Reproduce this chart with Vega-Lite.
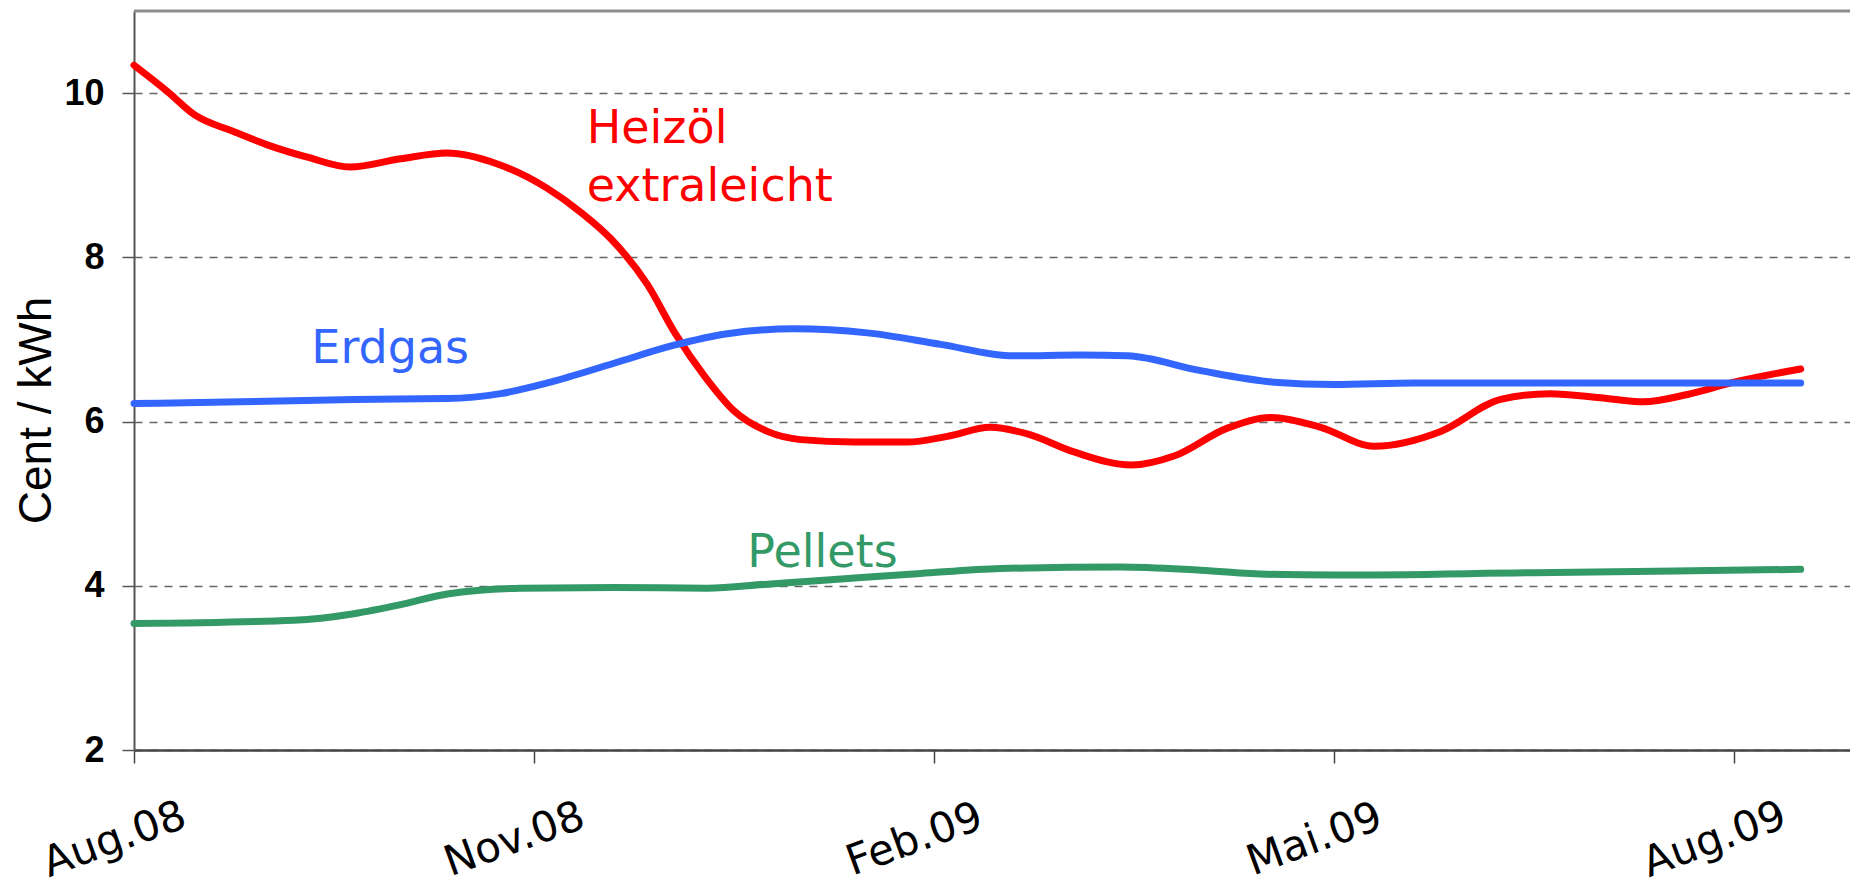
{
  "$schema": "https://vega.github.io/schema/vega-lite/v6.json",
  "autosize": {"type": "none"},
  "padding": {"left": 134, "top": 11, "right": 0, "bottom": 138},
  "width": 1716,
  "height": 739,
  "background": "white",
  "config": {"view": {"stroke": null}},
  "datasets": {
    "prices": [
      {"series": "Heizöl", "m": 0, "v": 10.34},
      {"series": "Heizöl", "m": 0.25, "v": 10.02},
      {"series": "Heizöl", "m": 0.45, "v": 9.74},
      {"series": "Heizöl", "m": 0.75, "v": 9.53},
      {"series": "Heizöl", "m": 1.0, "v": 9.37},
      {"series": "Heizöl", "m": 1.3, "v": 9.22},
      {"series": "Heizöl", "m": 1.62, "v": 9.1},
      {"series": "Heizöl", "m": 2.0, "v": 9.2},
      {"series": "Heizöl", "m": 2.35, "v": 9.27},
      {"series": "Heizöl", "m": 2.72, "v": 9.14},
      {"series": "Heizöl", "m": 3.1, "v": 8.84},
      {"series": "Heizöl", "m": 3.35, "v": 8.55},
      {"series": "Heizöl", "m": 3.58, "v": 8.22},
      {"series": "Heizöl", "m": 3.85, "v": 7.67},
      {"series": "Heizöl", "m": 4.06, "v": 7.07},
      {"series": "Heizöl", "m": 4.28, "v": 6.55},
      {"series": "Heizöl", "m": 4.5, "v": 6.13},
      {"series": "Heizöl", "m": 4.75, "v": 5.88},
      {"series": "Heizöl", "m": 5.0, "v": 5.78},
      {"series": "Heizöl", "m": 5.4, "v": 5.75},
      {"series": "Heizöl", "m": 5.8, "v": 5.75},
      {"series": "Heizöl", "m": 6.1, "v": 5.82},
      {"series": "Heizöl", "m": 6.42, "v": 5.93},
      {"series": "Heizöl", "m": 6.7, "v": 5.85},
      {"series": "Heizöl", "m": 7.05, "v": 5.63},
      {"series": "Heizöl", "m": 7.48, "v": 5.47},
      {"series": "Heizöl", "m": 7.8, "v": 5.58},
      {"series": "Heizöl", "m": 8.2, "v": 5.92},
      {"series": "Heizöl", "m": 8.53, "v": 6.05},
      {"series": "Heizöl", "m": 8.9, "v": 5.93},
      {"series": "Heizöl", "m": 9.3, "v": 5.7},
      {"series": "Heizöl", "m": 9.8, "v": 5.88},
      {"series": "Heizöl", "m": 10.25, "v": 6.27},
      {"series": "Heizöl", "m": 10.62, "v": 6.34},
      {"series": "Heizöl", "m": 11.0, "v": 6.29},
      {"series": "Heizöl", "m": 11.32, "v": 6.24},
      {"series": "Heizöl", "m": 11.65, "v": 6.33},
      {"series": "Heizöl", "m": 12.0, "v": 6.48},
      {"series": "Heizöl", "m": 12.5, "v": 6.64},
      {"series": "Erdgas", "m": 0, "v": 6.22},
      {"series": "Erdgas", "m": 0.8, "v": 6.24},
      {"series": "Erdgas", "m": 1.65, "v": 6.27},
      {"series": "Erdgas", "m": 2.35, "v": 6.28},
      {"series": "Erdgas", "m": 2.75, "v": 6.34},
      {"series": "Erdgas", "m": 3.1, "v": 6.47},
      {"series": "Erdgas", "m": 3.6, "v": 6.71},
      {"series": "Erdgas", "m": 4.05, "v": 6.93},
      {"series": "Erdgas", "m": 4.45, "v": 7.07},
      {"series": "Erdgas", "m": 4.95, "v": 7.13},
      {"series": "Erdgas", "m": 5.5, "v": 7.08},
      {"series": "Erdgas", "m": 6.05, "v": 6.94},
      {"series": "Erdgas", "m": 6.6, "v": 6.8},
      {"series": "Erdgas", "m": 7.1, "v": 6.81},
      {"series": "Erdgas", "m": 7.45, "v": 6.8},
      {"series": "Erdgas", "m": 8.0, "v": 6.62},
      {"series": "Erdgas", "m": 8.55, "v": 6.48},
      {"series": "Erdgas", "m": 9.0, "v": 6.45},
      {"series": "Erdgas", "m": 9.6, "v": 6.47},
      {"series": "Erdgas", "m": 10.5, "v": 6.47},
      {"series": "Erdgas", "m": 11.5, "v": 6.47},
      {"series": "Erdgas", "m": 12.5, "v": 6.47},
      {"series": "Pellets", "m": 0, "v": 3.54},
      {"series": "Pellets", "m": 1.2, "v": 3.58},
      {"series": "Pellets", "m": 1.65, "v": 3.66},
      {"series": "Pellets", "m": 2.0, "v": 3.77},
      {"series": "Pellets", "m": 2.35, "v": 3.9},
      {"series": "Pellets", "m": 2.9, "v": 3.97},
      {"series": "Pellets", "m": 3.6, "v": 3.98},
      {"series": "Pellets", "m": 4.3, "v": 3.97},
      {"series": "Pellets", "m": 4.75, "v": 4.02},
      {"series": "Pellets", "m": 5.2, "v": 4.07},
      {"series": "Pellets", "m": 5.9, "v": 4.15},
      {"series": "Pellets", "m": 6.5, "v": 4.21},
      {"series": "Pellets", "m": 7.4, "v": 4.23},
      {"series": "Pellets", "m": 8.0, "v": 4.19},
      {"series": "Pellets", "m": 8.5, "v": 4.14},
      {"series": "Pellets", "m": 9.0, "v": 4.13},
      {"series": "Pellets", "m": 10.5, "v": 4.16},
      {"series": "Pellets", "m": 12.5, "v": 4.2}
    ],
    "labels": [
      {"series": "Heizöl", "text": "Heizöl", "m": 3.395, "v": 9.39},
      {"series": "Heizöl", "text": "extraleicht", "m": 3.395, "v": 8.68},
      {"series": "Erdgas", "text": "Erdgas", "m": 1.33, "v": 6.71},
      {"series": "Pellets", "text": "Pellets", "m": 4.6, "v": 4.23}
    ]
  },
  "layer": [
    {
      "data": {"values": [{"top": 11}]},
      "mark": {"type": "rule", "color": "#8c8c8c", "strokeWidth": 3},
      "encoding": {"y": {"field": "top", "type": "quantitative"}}
    },
    {
      "data": {"name": "prices"},
      "mark": {"type": "line", "strokeWidth": 7, "interpolate": "monotone", "strokeCap": "round"},
      "encoding": {
        "x": {
          "field": "m", "type": "quantitative",
          "scale": {"domain": [0, 12.87], "nice": false, "zero": false},
          "axis": {
            "values": [0, 3, 6, 9, 12],
            "labelExpr": "datum.value == 0 ? 'Aug.08' : datum.value == 3 ? 'Nov.08' : datum.value == 6 ? 'Feb.09' : datum.value == 9 ? 'Mai.09' : 'Aug.09'",
            "title": null,
            "grid": false,
            "domainColor": "#444444",
            "domainWidth": 2.5,
            "tickColor": "#444444",
            "tickWidth": 1.5,
            "tickSize": 13,
            "labelFont": "DejaVu Sans",
            "labelFontSize": 42,
            "labelColor": "black",
            "labelAngle": -20,
            "labelAlign": "center",
            "labelBaseline": "middle",
            "labelOffset": -20,
            "labelPadding": 76,
            "labelOverlap": false,
            "labelFlush": false,
            "labelBound": false
          }
        },
        "y": {
          "field": "v", "type": "quantitative",
          "scale": {"domain": [2, 11], "nice": false, "zero": false},
          "axis": {
            "values": [2, 4, 6, 8, 10],
            "format": "d",
            "title": "Cent / kWh",
            "titleFont": "Liberation Sans",
            "titleFontSize": 46,
            "titleFontWeight": "normal",
            "titleColor": "black",
            "titleAngle": -90,
            "titleAlign": "center",
            "titleBaseline": "alphabetic",
            "titleX": -84,
            "titleY": 399,
            "grid": true,
            "gridDash": [8, 7],
            "gridColor": "#666666",
            "gridWidth": 1.3,
            "domainColor": "#555555",
            "domainWidth": 2,
            "tickColor": "#555555",
            "tickWidth": 1.5,
            "tickSize": 12,
            "labelFont": "Liberation Sans",
            "labelFontWeight": "bold",
            "labelFontSize": 36,
            "labelColor": "black",
            "labelPadding": 18,
            "labelOverlap": false,
            "labelFlush": false
          }
        },
        "color": {
          "field": "series", "type": "nominal",
          "scale": {"domain": ["Heizöl", "Erdgas", "Pellets"], "range": ["#ff0000", "#3366ff", "#339966"]},
          "legend": null
        }
      }
    },
    {
      "data": {"name": "labels"},
      "mark": {"type": "text", "font": "DejaVu Sans", "fontSize": 46, "align": "left", "baseline": "alphabetic"},
      "encoding": {
        "x": {"field": "m", "type": "quantitative"},
        "y": {"field": "v", "type": "quantitative"},
        "text": {"field": "text"},
        "color": {"field": "series", "type": "nominal", "legend": null}
      }
    }
  ]
}
